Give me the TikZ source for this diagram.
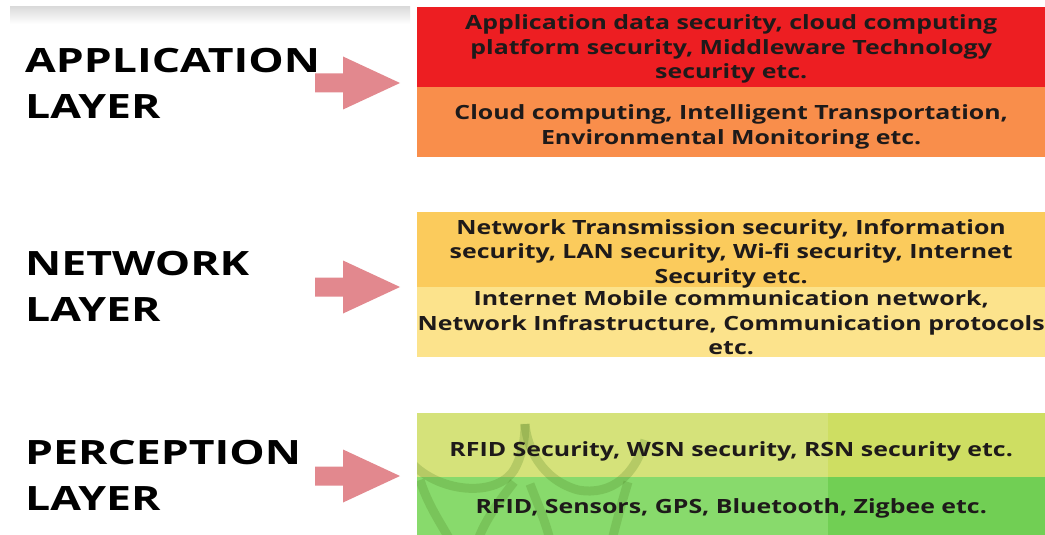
\documentclass[tikz,border=0pt]{standalone}
\usepackage{fontspec}
\setmainfont{Open Sans}
\newfontfamily\bandfont[FakeStretch=1.27]{Open Sans}
\newfontfamily\layerfont[FakeStretch=1.33]{Open Sans}
\usetikzlibrary{calc}

% layer band colours
\definecolor{appred}{RGB}{237,30,34}
\definecolor{apporange}{RGB}{249,142,75}
\definecolor{netgold}{RGB}{251,203,92}
\definecolor{netyellow}{RGB}{252,227,140}
\definecolor{perclime}{RGB}{213,226,122}
\definecolor{perclimeR}{RGB}{206,222,98}
\definecolor{percgreen}{RGB}{136,218,108}
\definecolor{percgreenR}{RGB}{113,207,84}
\definecolor{arrowpink}{RGB}{226,136,142}
\definecolor{inktext}{RGB}{30,26,26}
\definecolor{markgreen}{RGB}{70,120,30}

\tikzset{
  band/.style={rectangle, draw=none, inner sep=0pt, minimum width=628pt, anchor=north west},
  tint/.style={rectangle, draw=none, inner sep=0pt, minimum width=217pt, anchor=north west},
  bandtext/.style={font=\bandfont\bfseries\fontsize{19.6}{24.5}\selectfont, text=inktext, align=center, inner sep=0pt},
  layerlabel/.style={font=\layerfont\bfseries\fontsize{33.5}{45.5}\selectfont, text=black, align=left, anchor=base west, inner sep=0pt},
  watermark/.style={draw=markgreen, draw opacity=0.22, line width=9pt},
  pics/blockarrow/.style={code={
    \fill[arrowpink] (-85,-9.5) -- (-57,-9.5) -- (-57,-26.5) -- (0,0)
      -- (-57,26.5) -- (-57,9.5) -- (-85,9.5) -- cycle;}}
}

\begin{document}
\begin{tikzpicture}[x=1pt,y=-1pt]
\useasboundingbox (0,0) rectangle (1045,535);
\fill[white] (0,0) rectangle (1045,535);

% faint shadow strip along the top
\shade[top color=black!14, bottom color=white] (10,7) rectangle (410,24);

% application layer bands
\node[band, fill=appred, minimum height=80pt] (appsec) at (417,7) {};
\node[band, fill=apporange, minimum height=70pt] (appuse) at (417,87) {};

% network layer bands
\node[band, fill=netgold, minimum height=75pt] (netsec) at (417,212) {};
\node[band, fill=netyellow, minimum height=70pt] (netuse) at (417,287) {};

% perception layer bands, slightly deeper shade on the right
\node[band, fill=perclime, minimum height=64pt] (percsec) at (417,413) {};
\node[band, fill=percgreen, minimum height=58pt] (percuse) at (417,477) {};
\node[tint, fill=perclimeR, minimum height=64pt] (percsecR) at (828,413) {};
\node[tint, fill=percgreenR, minimum height=58pt] (percuseR) at (828,477) {};

% faint arch watermark over the perception bands
\begin{scope}
  \clip (417,413) rectangle (680,535);
  \draw[watermark] (405,455) .. controls (430,492) and (495,500) .. (514,470)
                   .. controls (522,456) and (525,440) .. (525,424);
  \draw[watermark] (525,424) .. controls (527,448) and (542,480) .. (578,490)
                   .. controls (612,496) and (635,475) .. (645,440);
  \draw[watermark] (420,480) .. controls (428,505) and (440,522) .. (450,540);
  \draw[watermark] (514,482) .. controls (500,500) and (485,520) .. (478,540);
  \draw[watermark] (530,484) .. controls (538,505) and (545,520) .. (550,540);
  \draw[watermark] (628,482) .. controls (622,502) and (617,520) .. (612,540);
\end{scope}

% band texts
\node[bandtext] (appsectext) at ($(appsec.center)+(0,2)$)
  {Application data security, cloud computing\\
   platform security, Middleware Technology\\
   security etc.};
\node[bandtext] (appusetext) at ($(appuse.center)+(0,4.5)$)
  {Cloud computing, Intelligent Transportation,\\
   Environmental Monitoring etc.};
\node[bandtext] (netsectext) at ($(netsec.center)+(0,4)$)
  {Network Transmission security, Information\\
   security, LAN security, Wi-fi security, Internet\\
   Security etc.};
\node[bandtext] (netusetext) at ($(netuse.center)+(0,0.5)$)
  {Internet Mobile communication network,\\
   Network Infrastructure, Communication protocols\\
   etc.};
\node[bandtext] (percsectext) at ($(percsec.center)+(0,6)$)
  {RFID Security, WSN security, RSN security etc.};
\node[bandtext] (percusetext) at ($(percuse.center)+(0,2.5)$)
  {RFID, Sensors, GPS, Bluetooth, Zigbee etc.};

% layer names (anchored on the baseline of the second line)
\node[layerlabel] (applabel) at (25,118) {APPLICATION\\LAYER};
\node[layerlabel] (netlabel) at (25,321) {NETWORK\\LAYER};
\node[layerlabel] (perclabel) at (25,510) {PERCEPTION\\LAYER};

% pointers from the layer names to their bands
\coordinate (apptip) at (400,83);
\coordinate (nettip) at (400,287);
\coordinate (perctip) at (400,476);
\pic at (apptip) {blockarrow};
\pic at (nettip) {blockarrow};
\pic at (perctip) {blockarrow};
\end{tikzpicture}
\end{document}
